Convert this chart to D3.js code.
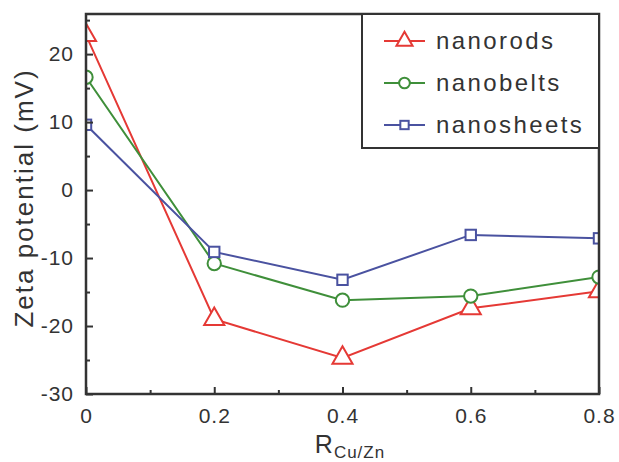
<!DOCTYPE html>
<html><head><meta charset="utf-8">
<script src="https://cdn.jsdelivr.net/npm/d3@7"></script>
<style>body{margin:0;background:#fff}svg{display:block}text{font-family:"Liberation Sans",Arial,sans-serif;fill:#333}</style>
</head><body>
<script>
const xValues = [0, 0.2, 0.4, 0.6, 0.8];
const nanorods = [22.8, -19.0, -24.7, -17.4, -14.9];
const nanobelts = [16.6, -10.8, -16.2, -15.6, -12.8];
const nanosheets = [9.6, -9.1, -13.2, -6.6, -7.1];
const seriesNames = ["nanorods", "nanobelts", "nanosheets"];
const xTicks = [0, 0.2, 0.4, 0.6, 0.8];
const yTicks = [-30, -20, -10, 0, 10, 20];

const W = 619, H = 462;
const m = {l: 86, r: 20, t: 14, b: 68};
const svg = d3.select("body").append("svg").attr("width", W).attr("height", H);
const x = d3.scaleLinear().domain([0, 0.8]).range([m.l, W - m.r]);
const y = d3.scaleLinear().domain([-30, 25.9]).range([H - m.b, m.t]);
const colors = ["#e53935", "#3f8f3a", "#4a52a0"];
const data = [nanorods, nanobelts, nanosheets];

svg.append("clipPath").attr("id", "clip").append("rect")
  .attr("x", m.l).attr("y", m.t).attr("width", W - m.r - m.l).attr("height", H - m.b - m.t);

const g = svg.append("g").attr("clip-path", "url(#clip)");
const line = d3.line().x((d, i) => x(xValues[i])).y(d => y(d));

function marker(sel, type, color, size) {
  if (type === 0) {
    sel.append("path").attr("d", d3.symbol(d3.symbolTriangle, size * 1.25))
      .attr("fill", "#fff").attr("stroke", color).attr("stroke-width", 2);
  } else if (type === 1) {
    sel.append("circle").attr("r", Math.sqrt(size / Math.PI)).attr("fill", "#fff").attr("stroke", color).attr("stroke-width", 2);
  } else {
    const s = Math.sqrt(size) * 0.88;
    sel.append("rect").attr("x", -s / 2).attr("y", -s / 2).attr("width", s).attr("height", s)
      .attr("fill", "#fff").attr("stroke", color).attr("stroke-width", 2);
  }
}

data.forEach((vals, k) => {
  g.append("path").datum(vals).attr("d", line).attr("fill", "none").attr("stroke", colors[k]).attr("stroke-width", 2);
});
data.forEach((vals, k) => {
  vals.forEach((v, i) => {
    const mg = g.append("g").attr("transform", `translate(${x(xValues[i])},${y(v)})`);
    marker(mg, k, colors[k], 140);
  });
});

// axes
const axisColor = "#333";
const fam = "Liberation Sans, Arial, sans-serif";
const bottom = svg.append("g").attr("transform", `translate(0,${H - m.b})`)
  .call(d3.axisBottom(x).tickValues(xTicks).tickFormat(d => d === 0 ? "0" : d3.format(".1f")(d)).tickSizeInner(-7).tickSizeOuter(0).tickPadding(14));
bottom.selectAll(".tick line").attr("stroke", axisColor).attr("stroke-width", 2);
bottom.selectAll("text").attr("font-size", 21).attr("fill", "#333").style("font-family", fam).style("letter-spacing", "1px");
bottom.select(".domain").remove();
svg.append("g").attr("transform", `translate(0,${H - m.b})`)
  .call(d3.axisBottom(x).tickValues([0.1, 0.3, 0.5, 0.7]).tickFormat("").tickSizeInner(-4).tickSizeOuter(0))
  .call(a => a.select(".domain").remove()).selectAll("line").attr("stroke", axisColor).attr("stroke-width", 2);

const left = svg.append("g").attr("transform", `translate(${m.l},0)`)
  .call(d3.axisLeft(y).tickValues(yTicks).tickFormat(d => String(d)).tickSizeInner(-7).tickSizeOuter(0).tickPadding(12));
left.selectAll(".tick line").attr("stroke", axisColor).attr("stroke-width", 2);
left.selectAll("text").attr("font-size", 21).attr("fill", "#333").style("font-family", fam).style("letter-spacing", "1px");
left.select(".domain").remove();
svg.append("g").attr("transform", `translate(${m.l},0)`)
  .call(d3.axisLeft(y).tickValues([-25, -15, -5, 5, 15, 25]).tickFormat("").tickSizeInner(-4).tickSizeOuter(0))
  .call(a => a.select(".domain").remove()).selectAll("line").attr("stroke", axisColor).attr("stroke-width", 2);

svg.append("rect").attr("x", m.l).attr("y", m.t).attr("width", W - m.r - m.l).attr("height", H - m.b - m.t)
  .attr("fill", "none").attr("stroke", axisColor).attr("stroke-width", 2.5);

// axis titles
const xt = svg.append("text").attr("x", 350).attr("y", 453).attr("text-anchor", "middle").attr("font-size", 25).style("letter-spacing", "1px");
xt.append("tspan").text("R");
xt.append("tspan").attr("font-size", 17).attr("dy", 5).text("Cu/Zn");
svg.append("text").attr("transform", `translate(33,198) rotate(-90)`)
  .attr("text-anchor", "middle").attr("font-size", 26).style("letter-spacing", "2px").text("Zeta potential (mV)");

// legend
const lg = svg.append("g");
lg.append("rect").attr("x", 362).attr("y", m.t).attr("width", W - m.r - 362).attr("height", 134)
  .attr("fill", "#fff").attr("stroke", axisColor).attr("stroke-width", 2);
seriesNames.forEach((name, k) => {
  const ly = 41 + k * 42;
  lg.append("line").attr("x1", 384).attr("x2", 425).attr("y1", ly).attr("y2", ly).attr("stroke", colors[k]).attr("stroke-width", 2);
  const mg = lg.append("g").attr("transform", `translate(404.5,${ly})`);
  marker(mg, k, colors[k], 90);
  lg.append("text").attr("x", 436).attr("y", ly + 8).attr("font-size", 24).style("letter-spacing", "2.4px").text(name);
});
</script>
</body></html>
